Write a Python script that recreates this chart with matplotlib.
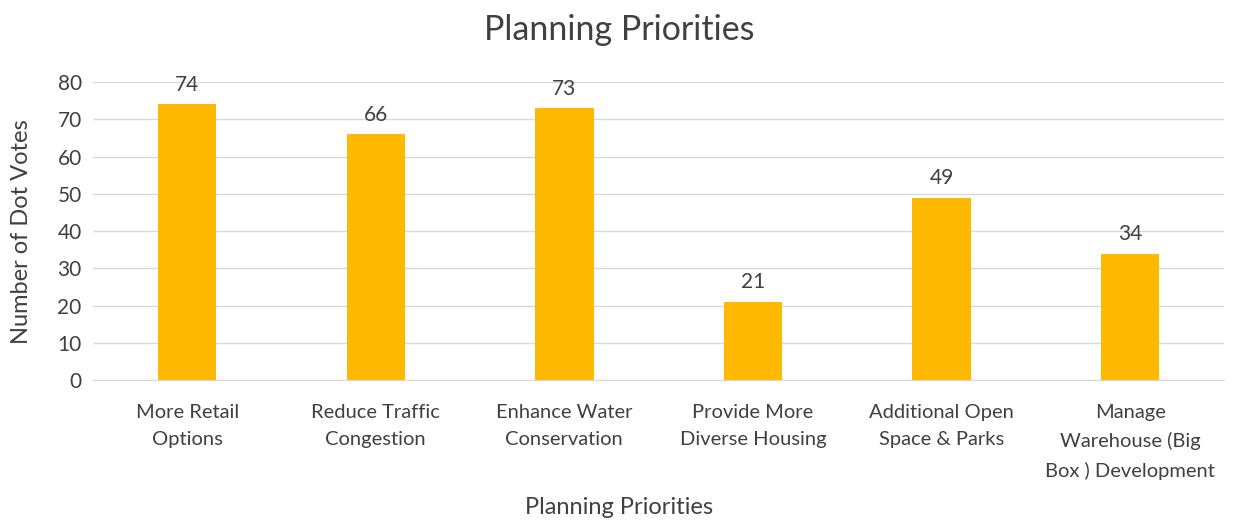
import matplotlib.pyplot as plt

categories = ["More Retail\nOptions", "Reduce Traffic\nCongestion", "Enhance Water\nConservation",
              "Provide More\nDiverse Housing", "Additional Open\nSpace & Parks",
              "Manage\nWarehouse (Big\nBox ) Development"]
votes = [74, 66, 73, 21, 49, 34]
yticks = [0, 10, 20, 30, 40, 50, 60, 70, 80]

plt.rcParams['font.family'] = ['Lato', 'DejaVu Sans']
text_color = "#404040"

fig = plt.figure(figsize=(12.38, 5.23), dpi=100)
ax = fig.add_axes([0.075, 0.273, 0.914, 0.57])

x = range(len(categories))
bars = ax.bar(x, votes, width=0.31, color="#FFB900", zorder=3)
for b, v in zip(bars, votes):
    ax.text(b.get_x() + b.get_width() / 2, v + 2.6, str(v), ha="center", va="bottom",
            fontsize=15, color=text_color)

ax.set_xlim(-0.5, len(categories) - 0.5)
ax.set_ylim(0, 80)
ax.set_yticks(yticks)
ax.set_xticks(list(x))
ax.set_xticklabels(categories, fontsize=14.5, color=text_color, linespacing=1.75)
ax.tick_params(axis="y", labelsize=15, labelcolor=text_color, length=0, pad=8)
ax.tick_params(axis="x", length=0, pad=17)
ax.grid(axis="y", color="#D9D9D9", linewidth=1, zorder=0)
for s in ["top", "right", "left"]:
    ax.spines[s].set_visible(False)
ax.spines["bottom"].set_color("#D9D9D9")

ax.set_ylabel("Number of Dot Votes", fontsize=17, color=text_color, labelpad=18)
fig.text(0.5, 0.03, "Planning Priorities", ha="center", va="center", fontsize=17, color=text_color)
fig.text(0.5, 0.943, "Planning Priorities", ha="center", va="center", fontsize=24.5, color=text_color)

fig.savefig("out.png", dpi=100)
